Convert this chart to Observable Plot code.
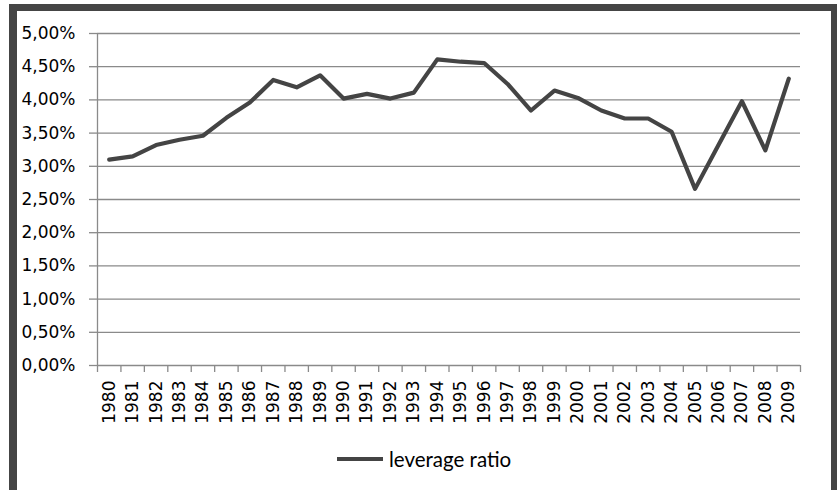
<!DOCTYPE html>
<html>
<head>
<meta charset="utf-8">
<script src="https://cdn.jsdelivr.net/npm/d3@7"></script>
<script src="https://cdn.jsdelivr.net/npm/@observablehq/plot@0.6"></script>
<style>
html, body { margin: 0; padding: 0; background: #fff; }
#wrap { position: relative; width: 839px; height: 490px; overflow: hidden; background: #fff; }
#frame { position: absolute; left: 9px; top: 4px; width: 828px; height: 520px; box-sizing: border-box;
  border-top: 7px solid #454545; border-left: 8px solid #454545; border-right: 6px solid #454545; }
#chart { position: absolute; left: 0; top: 0; }
#chart text { font-family: "DejaVu Sans", Verdana, sans-serif; }
#legend { position: absolute; left: 336px; top: 447px; display: flex; align-items: center;
  font-family: Lato, "Open Sans", sans-serif; font-size: 20.5px; color: #000; }
#legend svg { display: block; margin-right: 5px; }
</style>
</head>
<body>
<div id="wrap">
  <div id="frame"></div>
  <div id="chart"></div>
  <div id="legend"></div>
</div>
<script>
const years = [1980,1981,1982,1983,1984,1985,1986,1987,1988,1989,1990,1991,1992,1993,1994,
  1995,1996,1997,1998,1999,2000,2001,2002,2003,2004,2005,2006,2007,2008,2009];
const leverageRatio = [3.10,3.15,3.32,3.40,3.46,3.73,3.96,4.30,4.19,4.37,4.02,4.09,4.02,4.11,4.61,
  4.575,4.555,4.24,3.84,4.14,4.03,3.84,3.72,3.72,3.52,2.66,3.32,3.98,3.24,4.32];
const yTicks = [0,0.5,1,1.5,2,2.5,3,3.5,4,4.5,5];
const seriesName = "leverage ratio";

const data = years.map((y, i) => ({year: y, value: leverageRatio[i]}));
const boundaries = [years[0] - 0.5, ...years.map(y => y + 0.5)];
const fmtY = d => d.toFixed(2).replace(".", ",") + "%";
const gridColor = "#8a8a8a";
const lineColor = "#444444";
const font = "DejaVu Sans";

const chart = Plot.plot({
  width: 839,
  height: 440,
  marginLeft: 97,
  marginRight: 39,
  marginTop: 33,
  marginBottom: 75,
  style: {fontFamily: font, fontSize: "17px", color: "#000", background: "transparent"},
  x: {type: "linear", domain: [boundaries[0], boundaries[boundaries.length - 1]]},
  y: {domain: [0, 5]},
  marks: [
    Plot.gridY(yTicks, {stroke: gridColor, strokeOpacity: 1, strokeWidth: 1.3}),
    Plot.ruleX([boundaries[0]], {stroke: gridColor, strokeWidth: 1.3}),
    Plot.axisY(yTicks, {tickFormat: fmtY, tickSize: 8, tickPadding: 14, stroke: gridColor, strokeWidth: 1.3,
      fontFamily: font, fontSize: 17, fill: "#000", label: null}),
    Plot.axisX(boundaries, {tickSize: 7, tickFormat: () => "", stroke: gridColor, strokeWidth: 1.3, label: null}),
    Plot.axisX(years, {tickSize: 0, tickRotate: -90, tickPadding: 15, tickFormat: d => String(d),
      fontFamily: font, fontSize: 17, fill: "#000", label: null}),
    Plot.line(data, {x: "year", y: "value", stroke: lineColor, strokeWidth: 4.2, strokeLinejoin: "round", strokeLinecap: "round"})
  ]
});
document.getElementById("chart").appendChild(chart);

const legend = document.getElementById("legend");
legend.innerHTML = `<svg width="48" height="10"><line x1="1" x2="47" y1="5" y2="5" stroke="${lineColor}" stroke-width="4.2"/></svg><span>${seriesName}</span>`;
</script>
</body>
</html>
